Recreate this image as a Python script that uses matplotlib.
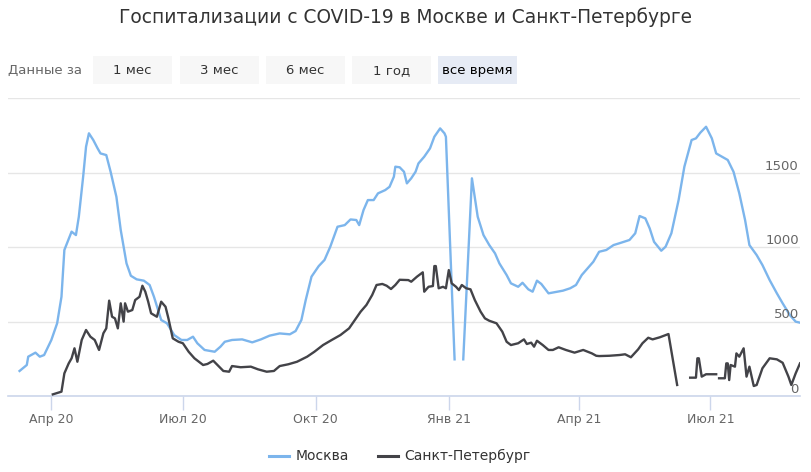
import numpy as np
import pandas as pd
import matplotlib
matplotlib.use("Agg")
import matplotlib.pyplot as plt
from matplotlib.patches import Rectangle
from matplotlib.lines import Line2D
import matplotlib.transforms as mtrans

plt.rcParams['font.family'] = ['DejaVu Sans']

# данные
msk_dates = [
    "2020-03-10", "2020-03-15", "2020-03-16", "2020-03-21", "2020-03-24", "2020-03-27",
    "2020-04-01", "2020-04-05", "2020-04-08", "2020-04-10", "2020-04-15", "2020-04-18",
    "2020-04-20", "2020-04-23", "2020-04-25", "2020-04-27", "2020-04-30", "2020-05-03",
    "2020-05-05", "2020-05-09", "2020-05-12", "2020-05-16", "2020-05-19", "2020-05-23",
    "2020-05-26", "2020-05-30", "2020-06-04", "2020-06-08", "2020-06-11", "2020-06-16",
    "2020-06-20", "2020-06-25", "2020-06-30", "2020-07-04", "2020-07-08", "2020-07-11",
    "2020-07-16", "2020-07-23", "2020-07-27", "2020-07-30", "2020-08-04", "2020-08-11",
    "2020-08-18", "2020-08-24", "2020-08-30", "2020-09-06", "2020-09-13", "2020-09-17",
    "2020-09-21", "2020-09-24", "2020-09-28", "2020-10-03", "2020-10-07", "2020-10-11",
    "2020-10-16", "2020-10-21", "2020-10-25", "2020-10-29", "2020-10-31", "2020-11-03",
    "2020-11-06", "2020-11-10", "2020-11-13", "2020-11-18", "2020-11-21", "2020-11-24",
    "2020-11-25", "2020-11-28", "2020-12-01", "2020-12-03", "2020-12-06", "2020-12-09",
    "2020-12-11", "2020-12-15", "2020-12-19", "2020-12-22", "2020-12-26", "2020-12-29",
    "2020-12-30", "2021-01-05", "2021-01-08", "2021-01-11", "2021-01-17", "2021-01-21",
    "2021-01-25", "2021-01-29", "2021-02-02", "2021-02-05", "2021-02-10", "2021-02-13",
    "2021-02-18", "2021-02-21", "2021-02-25", "2021-02-28", "2021-03-03", "2021-03-06",
    "2021-03-11", "2021-03-15", "2021-03-21", "2021-03-26", "2021-03-30", "2021-04-03",
    "2021-04-07", "2021-04-11", "2021-04-15", "2021-04-20", "2021-04-25", "2021-04-29",
    "2021-05-06", "2021-05-10", "2021-05-13", "2021-05-17", "2021-05-20", "2021-05-23",
    "2021-05-28", "2021-05-31", "2021-06-04", "2021-06-09", "2021-06-13", "2021-06-18",
    "2021-06-21", "2021-06-24", "2021-06-28", "2021-07-02", "2021-07-05", "2021-07-09",
    "2021-07-13", "2021-07-17", "2021-07-21", "2021-07-25", "2021-07-28", "2021-08-02",
    "2021-08-06", "2021-08-11", "2021-08-16", "2021-08-20", "2021-08-25", "2021-08-29",
    "2021-09-01",
]
msk_values = [
    168, 208, 264, 291, 264, 275,
    376, 488, 666, 980, 1103, 1080,
    1203, 1472, 1673, 1763, 1718, 1662,
    1628, 1617, 1505, 1337, 1114, 890,
    807, 783, 774, 745, 666, 510,
    488, 409, 376, 376, 398, 354,
    309, 297, 331, 364, 376, 380,
    360, 380, 405, 420, 414, 436,
    510, 644, 801, 872, 913, 1002,
    1136, 1147, 1185, 1181, 1147, 1248,
    1315, 1315, 1360, 1382, 1404, 1472,
    1539, 1535, 1505, 1427, 1461, 1505,
    1561, 1606, 1662, 1740, 1796, 1763,
    1740, 246, np.nan, 246, 1461, 1203,
    1080, 1013, 957, 890, 812, 756,
    733, 760, 716, 700, 774, 752,
    689, 696, 707, 723, 745, 812,
    857, 901, 968, 980, 1013, 1025,
    1047, 1092, 1208, 1192, 1125, 1035,
    975, 1002, 1092, 1315, 1539, 1718,
    1729, 1767, 1807, 1729, 1628, 1606,
    1584, 1505, 1360, 1181, 1013, 946,
    879, 778, 689, 622, 543, 499,
    492,
]

spb_dates = [
    "2020-04-02", "2020-04-08", "2020-04-10", "2020-04-13", "2020-04-15", "2020-04-17",
    "2020-04-19", "2020-04-22", "2020-04-25", "2020-04-28", "2020-05-01", "2020-05-04",
    "2020-05-07", "2020-05-09", "2020-05-11", "2020-05-13", "2020-05-15", "2020-05-17",
    "2020-05-19", "2020-05-21", "2020-05-22", "2020-05-24", "2020-05-27", "2020-05-29",
    "2020-06-01", "2020-06-03", "2020-06-05", "2020-06-07", "2020-06-09", "2020-06-13",
    "2020-06-14", "2020-06-16", "2020-06-19", "2020-06-21", "2020-06-24", "2020-06-28",
    "2020-07-01", "2020-07-05", "2020-07-09", "2020-07-15", "2020-07-18", "2020-07-22",
    "2020-07-26", "2020-07-29", "2020-08-02", "2020-08-04", "2020-08-10", "2020-08-17",
    "2020-08-22", "2020-08-28", "2020-09-02", "2020-09-06", "2020-09-12", "2020-09-18",
    "2020-09-25", "2020-09-30", "2020-10-06", "2020-10-12", "2020-10-18", "2020-10-24",
    "2020-10-28", "2020-11-01", "2020-11-05", "2020-11-09", "2020-11-12", "2020-11-16",
    "2020-11-19", "2020-11-22", "2020-11-25", "2020-11-28", "2020-12-04", "2020-12-06",
    "2020-12-10", "2020-12-14", "2020-12-15", "2020-12-18", "2020-12-21", "2020-12-22",
    "2020-12-23", "2020-12-25", "2020-12-28", "2020-12-30", "2021-01-01", "2021-01-03",
    "2021-01-06", "2021-01-08", "2021-01-10", "2021-01-13", "2021-01-16", "2021-01-19",
    "2021-01-23", "2021-01-26", "2021-01-29", "2021-02-03", "2021-02-07", "2021-02-10",
    "2021-02-13", "2021-02-18", "2021-02-22", "2021-02-24", "2021-02-27", "2021-03-01",
    "2021-03-03", "2021-03-07", "2021-03-11", "2021-03-14", "2021-03-18", "2021-03-23",
    "2021-03-29", "2021-04-04", "2021-04-10", "2021-04-13", "2021-04-15", "2021-04-22",
    "2021-04-29", "2021-05-03", "2021-05-07", "2021-05-12", "2021-05-15", "2021-05-19",
    "2021-05-22", "2021-05-27", "2021-06-02", "2021-06-08", "2021-06-12", "2021-06-17",
    "2021-06-21", "2021-06-22", "2021-06-23", "2021-06-25", "2021-06-28", "2021-07-05",
    "2021-07-06", "2021-07-07", "2021-07-11", "2021-07-12", "2021-07-13", "2021-07-14",
    "2021-07-15", "2021-07-18", "2021-07-19", "2021-07-21", "2021-07-24", "2021-07-26",
    "2021-07-28", "2021-07-31", "2021-08-02", "2021-08-04", "2021-08-06", "2021-08-11",
    "2021-08-16", "2021-08-20", "2021-08-24", "2021-08-26", "2021-08-29", "2021-09-01",
]
spb_values = [
    11, 29, 152, 219, 253, 320,
    230, 376, 443, 398, 376, 309,
    421, 454, 640, 532, 521, 454,
    622, 499, 622, 566, 577, 644,
    666, 740, 700, 633, 555, 532,
    566, 633, 599, 521, 387, 364,
    354, 297, 253, 208, 215, 237,
    197, 168, 163, 201, 193, 197,
    179, 163, 168, 201, 213, 230,
    264, 297, 342, 376, 409, 454,
    510, 566, 611, 678, 745, 752,
    740, 718, 745, 780, 778, 767,
    801, 830, 700, 733, 738, 872,
    872, 723, 733, 723, 845, 756,
    733, 711, 745, 723, 716, 644,
    566, 521, 505, 488, 432, 364,
    342, 354, 380, 349, 358, 331,
    371, 342, 309, 309, 327, 309,
    291, 309, 286, 270, 268, 270,
    275, 280, 260, 313, 354, 391,
    380, 394, 416, 74, np.nan, 123,
    123, 253, 253, 130, 146, 146,
    np.nan, 119, 119, 219, 219, 107,
    208, 197, 286, 264, 320, 130,
    197, 67, 74, 130, 186, 253,
    246, 223, 130, 74, 152, 219,
]

series_names = ["Москва", "Санкт-Петербург"]
series_colors = ["#7cb5ec", "#434348"]

tick_dates = ["2020-04-01", "2020-07-01", "2020-10-01", "2021-01-01", "2021-04-01", "2021-07-01"]
tick_labels = ["Апр 20", "Июл 20", "Окт 20", "Янв 21", "Апр 21", "Июл 21"]
y_ticks = [0, 500, 1000, 1500, 2000]

buttons = ["1 мес", "3 мес", "6 мес", "1 год", "все время"]

W, H = 811, 472
fig = plt.figure(figsize=(W / 100, H / 100), dpi=100)


def fx(px):
    return px / W


def fy(py):
    return 1 - py / H


ax = fig.add_axes([fx(8), fy(396), fx(800) - fx(8), fy(98) - fy(396)])

msk_x = pd.to_datetime(msk_dates)
spb_x = pd.to_datetime(spb_dates)
ax.plot(msk_x, msk_values, color=series_colors[0], lw=1.7, solid_joinstyle="round", zorder=3)
ax.plot(spb_x, spb_values, color=series_colors[1], lw=1.7, solid_joinstyle="round", zorder=4)

ax.set_xlim(pd.Timestamp("2020-03-02"), pd.Timestamp("2021-09-01"))
ax.set_ylim(0, 2000)

for s in ["top", "right", "left"]:
    ax.spines[s].set_visible(False)
ax.spines["bottom"].set_color("#ccd6eb")
ax.spines["bottom"].set_linewidth(1.2)

ax.set_yticks(y_ticks)
ax.yaxis.grid(True, color="#e6e6e6", lw=1)
ax.tick_params(axis="y", length=0, labelleft=False)
ax.set_axisbelow(True)

# подписи оси Y справа, над линиями сетки
tr = mtrans.blended_transform_factory(ax.transAxes, ax.transData)
for v in y_ticks[:-1]:
    ax.text(0.9985, v, str(v), transform=tr, ha="right", va="bottom",
            fontsize=9.5, color="#666666")

ax.set_xticks(pd.to_datetime(tick_dates))
ax.set_xticklabels(tick_labels)
ax.tick_params(axis="x", length=10, width=1, color="#ccd6eb", labelsize=9,
               labelcolor="#666666", pad=2)

# заголовок
fig.text(0.5, fy(17), "Госпитализации с COVID-19 в Москве и Санкт-Петербурге",
         ha="center", va="center", fontsize=13.4, color="#333333")

# кнопки периода
fig.text(fx(8), fy(70), "Данные за", ha="left", va="center", fontsize=9.5, color="#666666")
btn_left = [93, 180, 266, 352, 438]
for i, (lbl, bx) in enumerate(zip(buttons, btn_left)):
    active = i == len(buttons) - 1
    fig.add_artist(Rectangle((fx(bx), fy(84)), fx(79), fy(56) - fy(84),
                             transform=fig.transFigure,
                             facecolor="#e6ebf5" if active else "#f7f7f7",
                             edgecolor="none"))
    fig.text(fx(bx + 39.5), fy(70.5), lbl, ha="center", va="center",
             fontsize=9.5, color="#000000" if active else "#333333")

# легенда
leg_items = [(269, 296), (378, 404)]
for (lx, tx), name, col in zip(leg_items, series_names, series_colors):
    fig.add_artist(Line2D([fx(lx), fx(lx + 20)], [fy(456), fy(456)],
                          transform=fig.transFigure, color=col, lw=2.2))
    fig.text(fx(tx), fy(456), name, ha="left", va="center", fontsize=10, color="#333333")

fig.savefig("out.png", dpi=100, facecolor="white")
